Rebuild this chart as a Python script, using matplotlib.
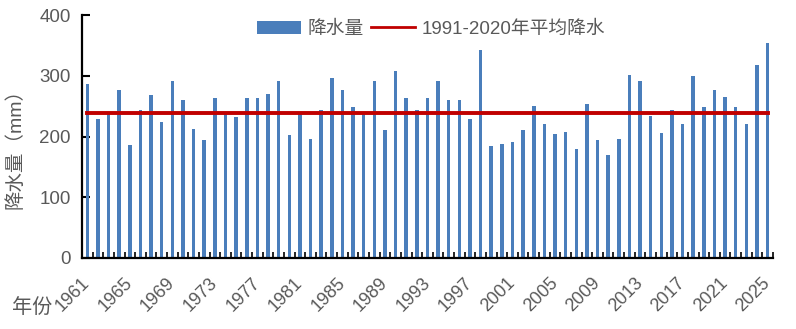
import matplotlib.pyplot as plt
from matplotlib.lines import Line2D
import numpy as np

plt.rcParams['font.family'] = ['Liberation Sans', 'Noto Sans CJK SC', 'DejaVu Sans']

years = list(range(1961, 2026))
precip = [287, 229, 240, 277, 186, 244, 268, 224, 292, 261,
          213, 195, 263, 239, 232, 263, 263, 270, 292, 203,
          240, 196, 243, 296, 277, 249, 238, 291, 210, 308,
          263, 243, 263, 291, 260, 260, 229, 343, 184, 188,
          191, 210, 251, 220, 204, 208, 179, 254, 195, 169,
          196, 302, 292, 234, 206, 243, 220, 300, 249, 277,
          265, 249, 220, 318, 354]
normal_1991_2020 = 238.5
tick_years = list(range(1961, 2026, 4))

x = np.arange(len(years))
grey = '#595959'
red = '#c00000'

fig = plt.figure(figsize=(7.96, 3.29), dpi=100)
ax = fig.add_axes([0.103, 0.216, 0.868, 0.738])

bars = ax.bar(x, precip, width=0.33, color='#4a7ebb', zorder=2)
ax.plot(x, [normal_1991_2020] * len(x), color=red, lw=2.8, zorder=3)

ax.set_xlim(-0.5, len(years) - 0.5)
ax.set_ylim(0, 400)
ax.set_yticks([0, 100, 200, 300, 400])

ax.set_xticks([years.index(y) for y in tick_years])
ax.set_xticklabels([str(y) for y in tick_years], rotation=45, ha='right',
                   va='center', rotation_mode='anchor')
ax.set_xticks(np.arange(-0.5, len(years), 1.0), minor=True)
ax.tick_params(axis='x', which='major', length=0, pad=16, labelsize=13, labelcolor=grey)
ax.tick_params(axis='x', which='minor', direction='in', length=4, width=1.2, color='black')
ax.tick_params(axis='y', direction='in', length=6, width=1.5, labelsize=13.5,
               labelcolor=grey, pad=8)

for side in ['top', 'right']:
    ax.spines[side].set_visible(False)
for side in ['left', 'bottom']:
    ax.spines[side].set_linewidth(1.6)

ax.set_ylabel('降水量（mm）', fontsize=14, color=grey, labelpad=4)
ax.yaxis.set_label_coords(-0.083, 0.47)
fig.text(0.015, 0.066, '年份', fontsize=14.5, color=grey, va='center')

line_handle = Line2D([], [], color=red, lw=2)
ax.legend([bars, line_handle], ['降水量', '1991-2020年平均降水'],
          loc='center', bbox_to_anchor=(0.505, 0.942), ncol=2, frameon=False,
          fontsize=13.5, handlelength=2.35, handleheight=0.65, columnspacing=0.4,
          handletextpad=0.35, labelcolor=grey)

fig.savefig('out.png', dpi=100)
